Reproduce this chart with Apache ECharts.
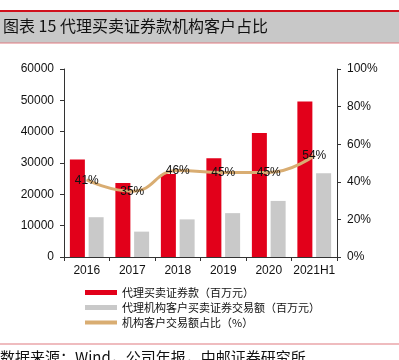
<!DOCTYPE html>
<html><head><meta charset="utf-8">
<script src="https://cdn.jsdelivr.net/npm/echarts@6/dist/echarts.min.js"></script>
<style>html,body{margin:0;padding:0;background:#fff}#c{width:399px;height:360px}</style>
</head><body><div id="c"></div>
<script>
const categories = ['2016','2017','2018','2019','2020','2021H1'];
const brokerDeposits = [31100, 23600, 26500, 31500, 39600, 49600];
const instTrading = [12700, 8100, 12000, 14000, 17900, 26700];
const instShare = [41, 35, 46, 45, 45, 54];
const leftTicks = ['0','10000','20000','30000','40000','50000','60000'];
const rightTicks = ['0%','20%','40%','60%','80%','100%'];
const titleText = '图表 15 代理买卖证券款机构客户占比';
const sourceText = '数据来源：Wind，公司年报，中邮证券研究所';
const names = ['代理买卖证券款（百万元）','代理机构客户买卖证券交易额（百万元）','机构客户交易额占比（%）'];

const chart = echarts.init(document.getElementById('c'));
const cjk = '"Noto Sans CJK SC", sans-serif';
const latin = '"Liberation Sans", Arial, sans-serif';
const lineColor = '#d9ad72';
chart.setOption({
  animation: false,
  backgroundColor: '#fff',
  graphic: [
    {type:'rect', shape:{x:0,y:11,width:399,height:32}, style:{fill:'#c8c8c8'}},
    {type:'rect', shape:{x:0,y:10,width:399,height:2}, style:{fill:'#d0101c'}},
    {type:'rect', shape:{x:0,y:42.5,width:399,height:1}, style:{fill:'#e07a80'}},
    {type:'text', left:3, top:18, style:{text:titleText, font:'16px ' + cjk, fill:'#111'}},
    {type:'rect', shape:{x:0,y:343.5,width:399,height:1}, style:{fill:'#e07a80'}},
    {type:'text', left:0, top:350, style:{text:sourceText, font:'15px ' + cjk, fill:'#111'}}
  ],
  grid: {left:64, right:62, top:69, bottom:103, containLabel:false},
  legend: {
    orient:'vertical', left:80, top:282, itemGap:4, itemWidth:32, itemHeight:5,
    textStyle:{fontFamily:cjk, fontSize:11, color:'#111'},
    data:[
      {name:names[0], icon:'rect'},
      {name:names[1], icon:'rect'},
      {name:names[2], icon:'path://M0,0 L32,0 L32,4 L0,4 Z', itemStyle:{color:lineColor, opacity:1}}
    ]
  },
  xAxis: {
    type:'category', data:categories,
    axisLine:{lineStyle:{color:'#333'}},
    axisTick:{show:true, length:4, lineStyle:{color:'#333'}},
    axisLabel:{fontFamily:latin, fontSize:12, color:'#111', margin:8, interval:0}
  },
  yAxis: [
    {type:'value', min:0, max:60000, interval:10000,
     axisLine:{show:true, lineStyle:{color:'#333'}},
     axisTick:{show:true, inside:false, length:4, lineStyle:{color:'#333'}},
     splitLine:{show:false},
     axisLabel:{fontFamily:latin, fontSize:12, color:'#111', margin:10,
       formatter:(v)=>leftTicks[v/10000]}},
    {type:'value', min:0, max:100, interval:20, position:'right',
     axisLine:{show:true, lineStyle:{color:'#333'}},
     axisTick:{show:true, length:4, lineStyle:{color:'#333'}},
     splitLine:{show:false},
     axisLabel:{fontFamily:latin, fontSize:12, color:'#111', margin:10,
       formatter:(v)=>rightTicks[v/20]}}
  ],
  series: [
    {name:names[0], type:'bar', data:brokerDeposits, barWidth:15, barGap:'25%',
     itemStyle:{color:'#e2001a'}},
    {name:names[1], type:'bar', data:instTrading, barWidth:15,
     itemStyle:{color:'#c9c9c9'}},
    {name:names[2], type:'line', yAxisIndex:1, data:instShare, smooth:true,
     symbol:'circle', symbolSize:1, showSymbol:true,
     lineStyle:{color:lineColor, width:3}, itemStyle:{color:lineColor},
     labelLayout:{hideOverlap:false},
     label:{show:true, position:'top', distance:-7,
       formatter:'{c}%', fontFamily:latin, fontSize:12, color:'#111'}}
  ]
});
</script></body></html>
